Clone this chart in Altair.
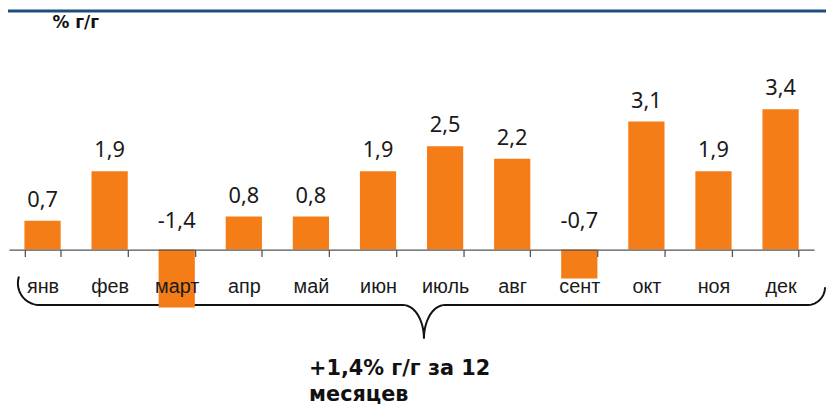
import altair as alt
import numpy as np
import pandas as pd

months = ["янв", "фев", "март", "апр", "май", "июн", "июль", "авг", "сент", "окт", "ноя", "дек"]
values = [0.7, 1.9, -1.4, 0.8, 0.8, 1.9, 2.5, 2.2, -0.7, 3.1, 1.9, 3.4]
value_labels = [f"{v:.1f}".replace(".", ",") for v in values]
unit_title = "% г/г"
summary_text = "+1,4% г/г за 12\nмесяцев"

BAR = "#F47D17"
W, H = 813, 401
PXU = 41.7                     # pixels per data unit
YMAX = 242 / PXU
YMIN = YMAX - H / PXU
STEP = W / 12

df = pd.DataFrame({"m": months, "v": values, "lab": value_labels})

# ---- brace (decoration) built in scale units ----
def to_u(xp):
    return (xp - 9) / STEP

def to_v(yp):
    return (250 - yp) / PXU

def arc(cx, cy, rx, ry, t0, t1, n=24):
    t = np.linspace(t0, t1, n)
    return list(zip(cx + rx * np.cos(t), cy + ry * np.sin(t)))

pts = []
pts += arc(40, 284, 22, 22, 1.1 * np.pi, 0.5 * np.pi)
pts += arc(407, 340, 21, 34, -0.5 * np.pi, 0.0)
pts += arc(449, 340, 21, 34, np.pi, 1.5 * np.pi)
pts += arc(815, 288, 18, 18, 0.5 * np.pi, 0.0)
brace = pd.DataFrame({
    "u": [to_u(p[0]) for p in pts],
    "bv": [to_v(p[1]) for p in pts],
    "i": list(range(len(pts))),
})

yscale = alt.Scale(domain=[YMIN, YMAX], nice=False, zero=False)
bandscale = alt.Scale(domain=months, paddingInner=0.46, paddingOuter=0.23)

brace_layer = alt.Chart(brace).mark_line(color="#111111", strokeWidth=2).encode(
    x=alt.X("u:Q", scale=alt.Scale(domain=[0, 12], nice=False, zero=False), axis=None),
    y=alt.Y("bv:Q", scale=yscale, axis=None),
    order="i:Q",
)

xband = alt.X(
    "m:N",
    sort=months,
    scale=bandscale,
    axis=alt.Axis(
        title=None,
        orient="bottom",
        offset=-(H - 242),
        labelAngle=0,
        labelFont="Liberation Sans",
        labelFontSize=20,
        labelColor="#1a1a1a",
        labelBaseline="alphabetic",
        labelPadding=36,
        tickSize=7,
        tickColor="#555555",
        tickWidth=1.3,
        tickBand="extent",
        domainColor="#555555",
        domainWidth=1.3,
        grid=False,
        zindex=1,
    ),
)

bars = alt.Chart(df).mark_bar(color=BAR).encode(
    x=xband,
    y=alt.Y("v:Q", scale=yscale, axis=None),
    y2=alt.datum(0),
)

lab_pos = alt.Chart(df).transform_filter("datum.v > 0").mark_text(
    font="Noto Sans", fontSize=22, color="#1a1a1a", baseline="alphabetic", dy=-14
).encode(
    x=alt.X("m:N", sort=months, scale=bandscale, axis=None),
    y=alt.Y("v:Q", scale=yscale, axis=None),
    text="lab:N",
)

lab_neg = alt.Chart(df).transform_filter("datum.v <= 0").transform_calculate(
    zero="0"
).mark_text(
    font="Noto Sans", fontSize=22, color="#1a1a1a", baseline="alphabetic", dy=-22
).encode(
    x=alt.X("m:N", sort=months, scale=bandscale, axis=None),
    y=alt.Y("zero:Q", scale=yscale, axis=None),
    text="lab:N",
)

top_rule = alt.Chart(pd.DataFrame({"k": [0]})).mark_rule(color="#1F4E7A", strokeWidth=3).encode(
    x=alt.value(-1), x2=alt.value(825), y=alt.value(1)
)

title_txt = alt.Chart(pd.DataFrame({"t": [unit_title]})).mark_text(
    font="DejaVu Sans", fontWeight="bold", fontSize=17,
    color="#111111", align="left", baseline="alphabetic"
).encode(x=alt.value(44), y=alt.value(18), text="t:N")

summary = alt.Chart(pd.DataFrame({"t": [summary_text]})).mark_text(
    lineBreak="\n", lineHeight=26, font="DejaVu Sans",
    fontWeight="bold", fontSize=21, color="#111111", align="left", baseline="alphabetic"
).encode(x=alt.value(303), y=alt.value(369), text="t:N")

chart = alt.layer(
    brace_layer, bars, lab_pos, lab_neg, top_rule, title_txt, summary
).resolve_scale(x="independent").properties(
    width=W, height=H,
    autosize=alt.AutoSizeParams(type="none"),
    padding={"left": 1, "top": 0, "right": 12, "bottom": 0},
).configure_view(stroke=None)

chart.save("out.html", embed_options={"renderer": "svg", "actions": False})
